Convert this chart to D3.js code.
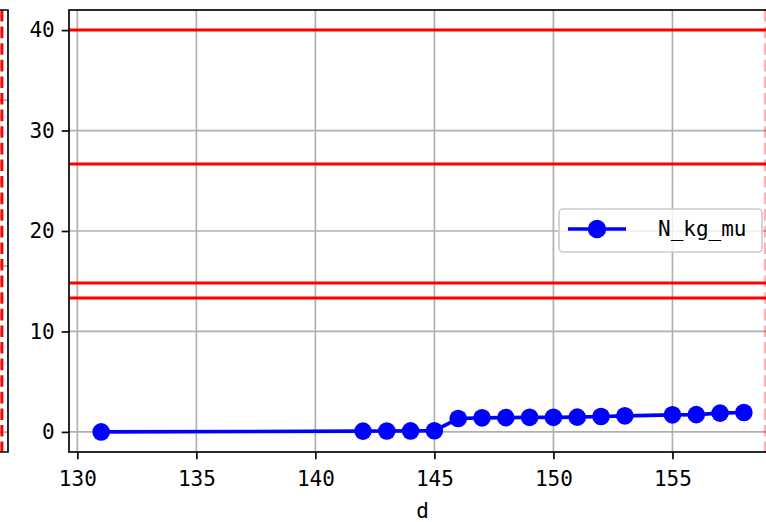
<!DOCTYPE html>
<html>
<head>
<meta charset="utf-8">
<script src="https://cdn.jsdelivr.net/npm/d3@7"></script>
<style>
  body { margin: 0; background: #fff; }
  text { font-family: "DejaVu Sans Mono", "Noto Sans CJK SC", monospace; }
</style>
</head>
<body>
<div id="chart"></div>
<script>
var width = 766,
    height = 522,
    margin = {top: 10, right: -10, bottom: 70, left: 69}
;

// data
var days = [131, 142, 143, 144, 145, 146, 147, 148, 149, 150, 151, 152, 153, 155, 156, 157, 158];
var nKgMu = [0, 0.08, 0.09, 0.1, 0.12, 1.33, 1.4, 1.42, 1.45, 1.45, 1.47, 1.53, 1.6, 1.7, 1.72, 1.87, 1.93];
var hLines = [40, 26.67, 14.83, 13.33];
var vLines = [158.9];
var xTicks = [130, 135, 140, 145, 150, 155];
var yTicks = [0, 10, 20, 30, 40];
var seriesName = "N_kg_mu";

// neighbour subplot (only its right edge is visible)
var leftTicks = [0, 1, 2];
var leftVLine = [0.985];

var svg = d3.select('#chart')
    .append('svg')
    .attr('width', width)
    .attr('height', height)
;

var w = width - margin.left - margin.right,
    h = height - margin.top - margin.bottom;

var x = d3.scaleLinear().domain([129.65, 159.35]).range([0, w]),
    y = d3.scaleLinear().domain([-2, 42]).range([h, 0]);

svg.append("defs").append("clipPath")
    .attr("id", "clip")
    .append("rect")
    .attr("width", w)
    .attr("height", h);

// --- left neighbour axes ---
var lx = d3.scaleLinear().domain([0, 1]).range([-400, 8]),
    ly = d3.scaleLinear().domain([-0.12, 2.543]).range([452, 10]);

var left = svg.append("g");
left.selectAll(".lgrid")
    .data(leftTicks)
    .enter().append("line")
    .attr("x1", 0).attr("x2", lx(1))
    .attr("y1", ly).attr("y2", ly)
    .attr("stroke", "#b0b0b0")
    .attr("stroke-width", 1.67);
left.selectAll(".lv")
    .data(leftVLine)
    .enter().append("line")
    .attr("x1", lx).attr("x2", lx)
    .attr("y1", ly.range()[1]).attr("y2", ly.range()[0])
    .attr("stroke", "red")
    .attr("stroke-width", 3)
    .attr("stroke-dasharray", "11.6,5");
left.append("path")
    .attr("d", "M0," + ly.range()[1] + "H" + lx(1) + "V" + ly.range()[0] + "H0")
    .attr("fill", "none")
    .attr("stroke", "#000")
    .attr("stroke-width", 1.67);

// --- main axes ---
var graph = svg.append("g")
    .attr("transform", "translate(" + margin.left + "," + margin.top + ")");

var plot = graph.append("g").attr("clip-path", "url(#clip)");

// grid
plot.selectAll(".vgrid")
    .data(xTicks)
    .enter().append("line")
    .attr("x1", x).attr("x2", x)
    .attr("y1", 0).attr("y2", h)
    .attr("stroke", "#b0b0b0")
    .attr("stroke-width", 1.67);
plot.selectAll(".hgrid")
    .data(yTicks)
    .enter().append("line")
    .attr("x1", 0).attr("x2", w)
    .attr("y1", y).attr("y2", y)
    .attr("stroke", "#b0b0b0")
    .attr("stroke-width", 1.67);

// reference lines
plot.selectAll(".hl")
    .data(hLines)
    .enter().append("line")
    .attr("x1", 0).attr("x2", w)
    .attr("y1", y).attr("y2", y)
    .attr("stroke", "red")
    .attr("stroke-width", 3);
plot.selectAll(".vl")
    .data(vLines)
    .enter().append("line")
    .attr("x1", x).attr("x2", x)
    .attr("y1", 0).attr("y2", h)
    .attr("stroke", "red")
    .attr("stroke-opacity", 0.3)
    .attr("stroke-width", 3)
    .attr("stroke-dasharray", "11.6,5");

// series
var pts = days.map(function(d, i) { return {day: d, v: nKgMu[i]}; });
var line = d3.line()
    .x(function(d) { return x(d.day); })
    .y(function(d) { return y(d.v); });

plot.append("path")
    .datum(pts)
    .attr("d", line)
    .attr("fill", "none")
    .attr("stroke", "#0000ff")
    .attr("stroke-width", 3.6);
plot.selectAll(".dot")
    .data(pts)
    .enter().append("circle")
    .attr("cx", function(d) { return x(d.day); })
    .attr("cy", function(d) { return y(d.v); })
    .attr("r", 8.8)
    .attr("fill", "#0000ff");

// axes
var xAxis = d3.axisBottom(x).tickValues(xTicks).tickSizeOuter(0).tickSize(7.3).tickPadding(7),
    yAxis = d3.axisLeft(y).tickValues(yTicks).tickSizeOuter(0).tickSize(7.3).tickPadding(7);

var gx = graph.append("g")
    .attr("transform", "translate(0," + h + ")")
    .call(xAxis);
var gy = graph.append("g").call(yAxis);

[gx, gy].forEach(function(g) {
    g.select(".domain").remove();
    g.selectAll(".tick line").attr("stroke", "#000").attr("stroke-width", 1.67);
    g.selectAll(".tick text").attr("fill", "#000").style("font-size", "21px");
});
gx.selectAll(".tick text").attr("dy", "0.95em");

// spines
graph.append("rect")
    .attr("width", w)
    .attr("height", h)
    .attr("fill", "none")
    .attr("stroke", "#000")
    .attr("stroke-width", 1.67);

// x label
graph.append("text")
    .attr("x", w / 2)
    .attr("y", h + 66)
    .attr("text-anchor", "middle")
    .style("font-size", "21px")
    .text("d");

// legend
var legend = graph.append("g")
    .attr("transform", "translate(" + (w - 217) + "," + (h / 2 - 22) + ")");
legend.append("rect")
    .attr("width", 203)
    .attr("height", 43)
    .attr("rx", 4)
    .attr("fill", "#fff")
    .attr("fill-opacity", 0.8)
    .attr("stroke", "#cccccc")
    .attr("stroke-width", 1.67);
legend.append("line")
    .attr("x1", 9).attr("x2", 67)
    .attr("y1", 20).attr("y2", 20)
    .attr("stroke", "#0000ff")
    .attr("stroke-width", 3.6);
legend.append("circle")
    .attr("cx", 38).attr("cy", 20)
    .attr("r", 9.2)
    .attr("fill", "#0000ff");
legend.append("text")
    .attr("x", 99)
    .attr("y", 20)
    .attr("dy", "0.35em")
    .style("font-size", "21px")
    .text(seriesName);
</script>
</body>
</html>
